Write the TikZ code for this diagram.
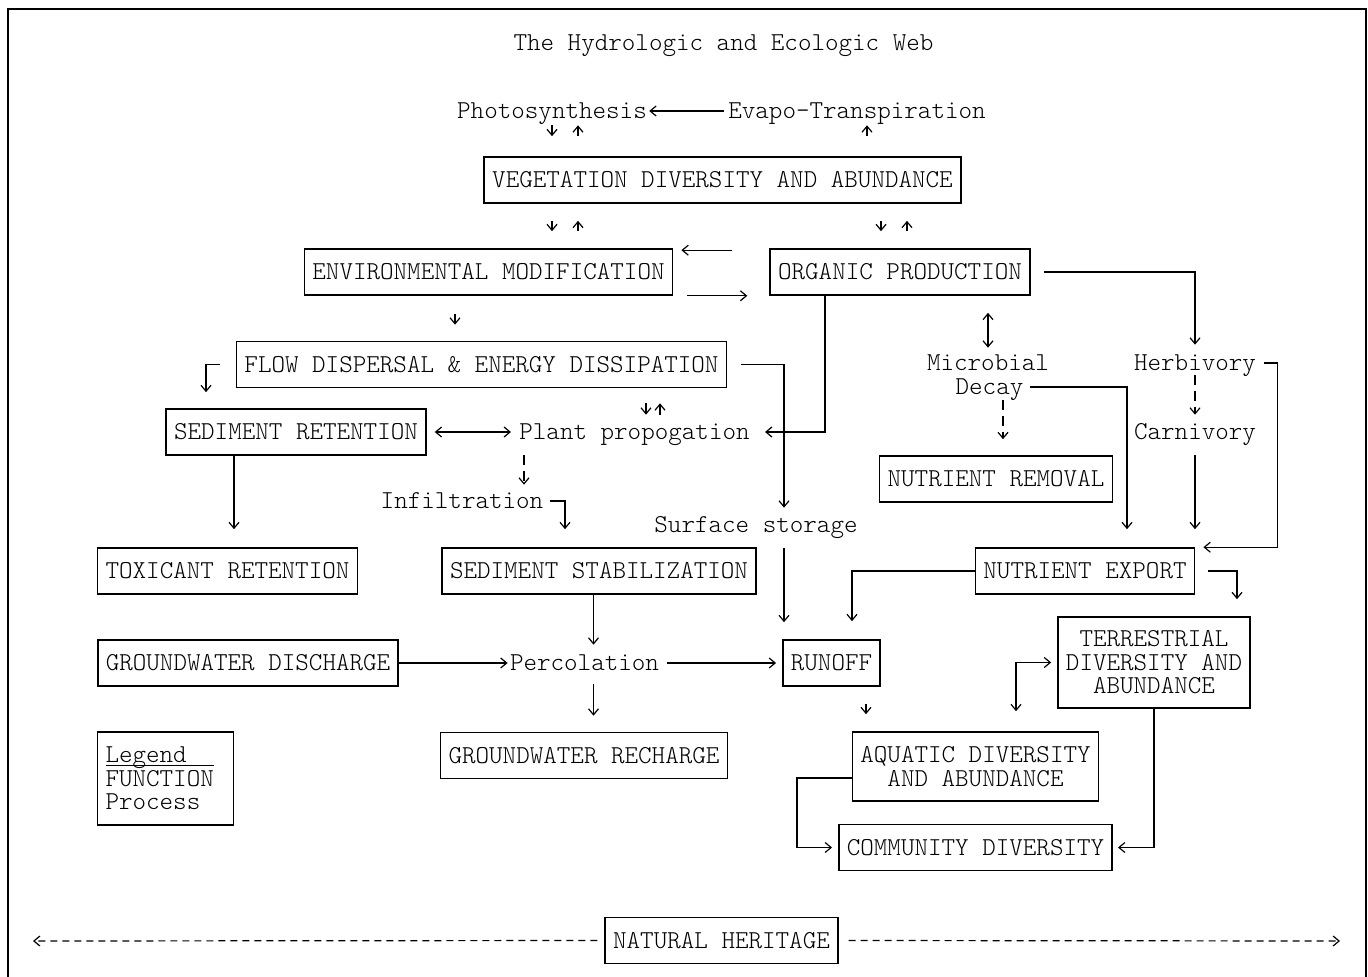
\documentclass[tikz,border=0pt]{standalone}
\usepackage{fontspec}
\setmainfont{lmmonolt10-regular.otf}
\usetikzlibrary{arrows.meta}
\tikzset{
  fn/.style={draw, line width=0.8pt, inner xsep=4pt, inner ysep=0pt, minimum height=23pt, text height=7.9pt, text depth=0pt},
  fnbig/.style={draw, line width=0.8pt, inner xsep=4pt, inner ysep=0pt, align=center},
  proc/.style={inner sep=0pt, text height=7.9pt, text depth=0pt},
  link/.style={line width=0.6pt, >={Straight Barb[length=3pt,width=5pt]}},
  brk/.style={link, dash pattern=on 5pt off 3pt}
}
\begin{document}
\begin{tikzpicture}[x=0.5pt, y=-0.5pt, font=\fontsize{12.9}{11.75}\selectfont]
\useasboundingbox (0,0) rectangle (1368,977);
\draw[line width=0.8pt] (8,977) -- (8,9) -- (1366,9) -- (1366,977);

\node[proc] (title) at (723.5,43) {The Hydrologic and Ecologic Web};
\node[proc] (photo) at (552,111) {Photosynthesis};
\node[proc] (evapo) at (857,111) {Evapo-Transpiration};
\node[fn] (veg) at (722.5,180) {VEGETATION DIVERSITY AND ABUNDANCE};
\node[fn] (envmod) at (488.5,272) {ENVIRONMENTAL MODIFICATION};
\node[fn] (orgprod) at (900,272) {ORGANIC PRODUCTION};
\node[fn] (flow) at (481.5,364.5) {FLOW DISPERSAL \& ENERGY DISSIPATION};
\node[proc] (microbial) at (988,363) {Microbial};
\node[proc] (decay) at (989.5,387) {Decay};
\node[proc] (herb) at (1195,363) {Herbivory};
\node[fn] (sedret) at (296,432) {SEDIMENT RETENTION};
\node[proc] (plant) at (634.5,432) {Plant propogation};
\node[proc] (carn) at (1195,432) {Carnivory};
\node[fn] (nutrem) at (996,479) {NUTRIENT REMOVAL};
\node[proc] (infil) at (462,501) {Infiltration};
\node[proc] (surf) at (756,525) {Surface storage};
\node[fn] (toxret) at (227.5,571) {TOXICANT RETENTION};
\node[fn] (sedstab) at (599,571) {SEDIMENT STABILIZATION};
\node[fn] (nutexp) at (1085,571) {NUTRIENT EXPORT};
\node[fn] (gwdis) at (248,663) {GROUNDWATER DISCHARGE};
\node[proc] (perc) at (584.5,663) {Percolation};
\node[fn] (runoff) at (831.5,663) {RUNOFF};
\node[fnbig, minimum height=45.5pt] (terr) at (1154,662.5) {TERRESTRIAL\\DIVERSITY AND\\ABUNDANCE};
\node[fn] (gwrech) at (584,755.5) {GROUNDWATER RECHARGE};
\node[fnbig, align=left, text width=60pt, minimum height=46.5pt] (legend) at (165.5,778.5) {\vphantom{L}\underline{\smash{Legend}\hspace{13.5pt}}\\FUNCTION\\Process};
\node[fnbig, minimum height=34.5pt] (aquatic) at (975.5,766.5) {AQUATIC DIVERSITY\\AND ABUNDANCE};
\node[fn] (community) at (975.5,847.5) {COMMUNITY DIVERSITY};
\node[fn] (heritage) at (721.5,940.5) {NATURAL HERITAGE};
\coordinate (westend) at (33,941);
\coordinate (eastend) at (1340,941);

\draw[link,->,shorten <=2pt,shorten >=1pt] (evapo.west) -- (photo.east);
\draw[link,->,shorten <=3pt,shorten >=10pt] (photo.south) -- (photo.south |- veg.north);
\draw[link,<-,shorten <=3pt,shorten >=10pt] ([xshift=13pt]photo.south) -- ([xshift=13pt]photo.south |- veg.north);
\draw[link,<-,shorten <=3pt,shorten >=10pt] ([xshift=5pt]evapo.south) -- ([xshift=5pt]evapo.south |- veg.north);
\draw[link,->,shorten <=8.5pt,shorten >=8.5pt] (photo.south |- veg.south) -- (photo.south |- envmod.north);
\draw[link,<-,shorten <=8.5pt,shorten >=8.5pt] ([xshift=13pt]photo.south |- veg.south) -- ([xshift=13pt]photo.south |- envmod.north);
\draw[link,->,shorten <=8.5pt,shorten >=8.5pt] ([xshift=-9.5pt]orgprod.north |- veg.south) -- ([xshift=-9.5pt]orgprod.north);
\draw[link,<-,shorten <=8.5pt,shorten >=8.5pt] ([xshift=3.5pt]orgprod.north |- veg.south) -- ([xshift=3.5pt]orgprod.north);
\draw[link,->,shorten <=18.5pt,shorten >=4pt] ([yshift=-1pt]orgprod.north west) -- ([yshift=-1pt]envmod.north east);
\draw[link,->,shorten <=7pt,shorten >=11pt] (envmod.south east) -- (orgprod.south west);
\draw[link,->,shorten <=6.5pt,shorten >=5pt] (orgprod.east) -| (herb.north);
\draw[link,->,shorten <=9pt,shorten >=8pt] ([xshift=-16.75pt]envmod.south) -- ([xshift=-16.75pt]envmod.south |- flow.north);
\draw[link,->,shorten <=8pt,shorten >=8pt] (flow.west) -| ([xshift=-45pt]sedret.north);
\draw[link,->,shorten <=7pt,shorten >=4.5pt] (flow.east) -| ([xshift=14pt]surf.north);
\draw[link,->,shorten <=7.5pt,shorten >=8.5pt] ([xshift=14pt]surf.south) -- ([xshift=14pt]surf.south |- runoff.north);
\draw[link,<->,shorten <=4pt,shorten >=4pt] (sedret.east) -- (plant.west);
\draw[link,->,shorten <=7.5pt,shorten >=4.5pt] ([xshift=5.75pt]plant.north |- flow.south) -- ([xshift=5.75pt]plant.north);
\draw[link,<-,shorten <=7.5pt,shorten >=4.5pt] ([xshift=12.75pt]plant.north |- flow.south) -- ([xshift=12.75pt]plant.north);
\draw[link,->,shorten >=7.5pt] ([xshift=-37.5pt]orgprod.south) |- (plant.east);
\draw[brk,->,shorten <=7.5pt,shorten >=4pt] ([xshift=31pt]infil.north |- plant.south) -- ([xshift=31pt]infil.north);
\draw[link,->,shorten <=3pt,shorten >=9pt] (infil.east) -| ([xshift=-17pt]sedstab.north);
\draw[link,->,shorten >=9pt] ([xshift=-31pt]sedret.south) -- ([xshift=-31pt]sedret.south |- toxret.north);
\draw[link,->,shorten >=5pt] ([xshift=4.5pt]perc.north |- sedstab.south) -- ([xshift=4.5pt]perc.north);
\draw[link,->,shorten >=1pt] (gwdis.east) -- (perc.west);
\draw[link,->,shorten <=4pt,shorten >=3pt] (perc.east) -- (runoff.west);
\draw[link,->,shorten <=6.5pt,shorten >=8pt] ([xshift=4.5pt]perc.south) -- ([xshift=4.5pt]perc.south |- gwrech.north);
\draw[link,->,shorten >=9pt] (nutexp.west) -| ([xshift=10.25pt]runoff.north);
\draw[link,<->,shorten <=8.5pt,shorten >=3.5pt] (microbial.north |- orgprod.south) -- (microbial.north);
\draw[link,->,shorten <=3pt,shorten >=9pt] (decay.east) -| ([xshift=21pt]nutexp.north);
\draw[brk,->,shorten <=2.5pt,shorten >=8pt] ([xshift=3.5pt]nutrem.north |- decay.south) -- ([xshift=3.5pt]nutrem.north);
\draw[brk,->,shorten <=2pt,shorten >=4.5pt] (herb.south) -- (carn.north);
\draw[link,->,shorten <=4pt,shorten >=4pt] (herb.east) -| ([xshift=41pt]nutexp.north east) -- (nutexp.north east);
\draw[link,->,shorten <=7.5pt,shorten >=9pt] (carn.south) -- (carn.south |- nutexp.north);
\draw[link,->,shorten <=6.5pt,shorten >=8.5pt] (nutexp.east) -| ([xshift=41.5pt]terr.north);
\draw[link,<->,shorten <=10pt,shorten >=3pt] ([xshift=20.25pt]aquatic.north) |- (terr.west);
\draw[link,->,shorten <=8.5pt,shorten >=8.5pt] ([xshift=17.25pt]runoff.south) -- ([xshift=17.25pt]runoff.south |- aquatic.north);
\draw[link,->,shorten >=3pt] ([yshift=-5.75pt]aquatic.west) -| ([xshift=-20.5pt]community.west) -- (community.west);
\draw[link,->,shorten >=2.5pt] (terr.south) |- (community.east);
\draw[link,->,dash pattern=on 3.5pt off 2.5pt,shorten <=3.5pt] (heritage.west) -- (westend);
\draw[link,->,dash pattern=on 3.5pt off 2.5pt,shorten <=5pt] (heritage.east) -- (eastend);
\end{tikzpicture}
\end{document}
